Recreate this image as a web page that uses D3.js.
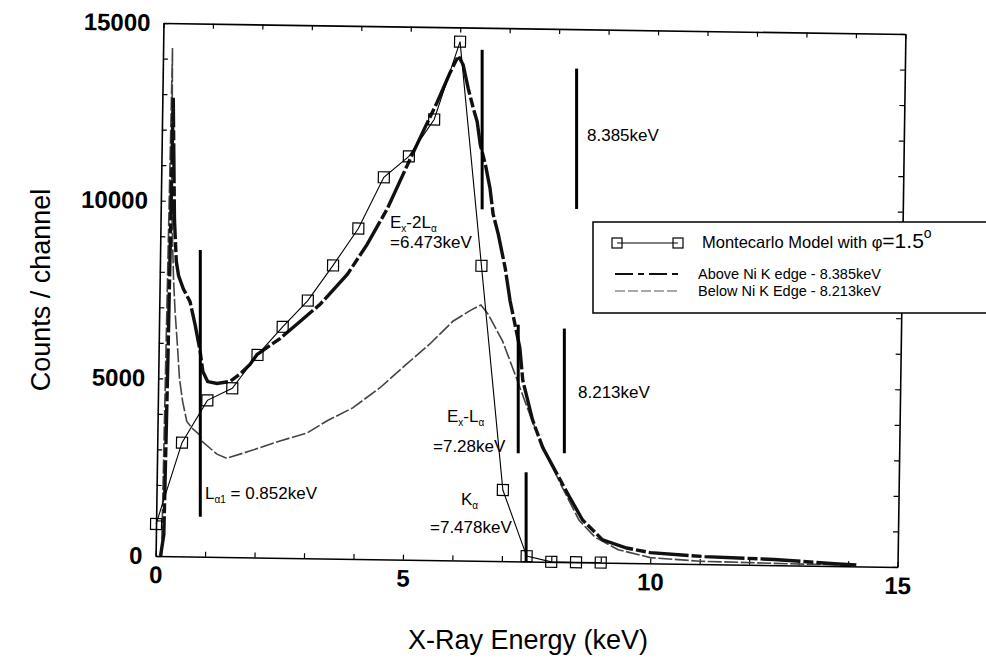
<!DOCTYPE html>
<html>
<head>
<meta charset="utf-8">
<script src="https://cdn.jsdelivr.net/npm/d3@7"></script>
<style>
  body { margin: 0; background: #fff; }
  text { font-family: "Liberation Sans", Arial, sans-serif; fill: #000; }
</style>
</head>
<body>
<div id="chart"></div>
<script>
var width = 986, height = 663;

// Montecarlo model, phi = 1.5 deg (keV, counts/channel)
var mcEnergy = [0, 0.5, 1, 1.5, 2, 2.5, 3, 3.5, 4, 4.5, 5, 5.5, 6, 6.5, 7, 7.5, 8, 8.5, 9];
var mcCounts = [900, 3200, 4400, 4750, 5700, 6500, 7250, 8250, 9300, 10750, 11350, 12400, 14600, 8300, 2000, 150, 0, 0, 0];

// measured spectrum, above Ni K edge (8.385 keV)
var aboveEnergy = [0.10, 0.16, 0.19, 0.22, 0.25, 0.28, 0.33, 0.38, 0.48, 0.62, 0.73, 0.84, 0.90, 1.00, 1.19,
  1.45, 1.65, 1.85, 1.99, 2.45, 2.85, 3.25, 3.79, 4.18, 4.58, 4.97, 5.36, 5.56, 5.80, 5.97, 6.07, 6.18,
  6.29, 6.37, 6.44, 6.55, 6.65, 6.72, 6.83, 6.98, 7.09, 7.30, 7.37, 7.58, 7.79, 8.08, 8.35, 8.62, 9.03,
  9.52, 10.0, 11.1, 12.5, 13.8, 14.2];
var aboveCounts = [0, 600, 5500, 12900, 11200, 9500, 8300, 7900, 7530, 7170, 6520, 5770, 5210, 4930, 4880,
  4940, 5150, 5430, 5710, 6170, 6660, 7150, 8000, 8850, 9870, 11100, 12300, 12900, 13700, 14200, 13950, 13280,
  12720, 12360, 11710, 11150, 10480, 9760, 9200, 8250, 7320, 6010, 5090, 3980, 3220, 2500, 1830, 1190, 640,
  420, 300, 210, 160, 60, 40];

// measured spectrum, below Ni K edge (8.213 keV)
var belowEnergy = [0.12, 0.19, 0.22, 0.25, 0.28, 0.32, 0.38, 0.43, 0.50, 0.59, 0.71, 0.85, 0.91, 1.21, 1.41,
  1.87, 2.48, 3.02, 3.42, 3.94, 4.48, 5.02, 5.48, 5.94, 6.30, 6.50, 6.65, 6.95, 7.24, 7.57, 7.93, 8.20,
  8.55, 8.88, 9.35, 10.0, 11.0, 12.5, 14.0];
var belowCounts = [0, 14300, 10000, 8800, 7800, 6900, 5900, 5000, 4360, 3800, 3600, 3430, 3240, 2890, 2780,
  2990, 3290, 3520, 3870, 4250, 4820, 5510, 6080, 6730, 7050, 7200, 6940, 6190, 5160, 3960, 2850, 2100,
  1180, 710, 370, 160, 80, 50, 30];

// energy marker bars (keV, top and bottom in counts)
var markerEnergy = [0.852, 6.473, 8.385, 7.28, 8.213, 7.478];
var markerTop    = [8630, 14380, 13890, 6660, 6570, 2510];
var markerBottom = [1120, 9890, 9940, 3040, 3060, 0];

var xTickLabels = [0, 5, 10, 15];
var yTickLabels = [0, 5000, 10000, 15000];

var legendLabels = ["Montecarlo Model with \u03c6", "Above Ni K edge - 8.385keV", "Below Ni K Edge - 8.213keV"];

var svg = d3.select("#chart")
  .append("svg")
    .attr("width", width)
    .attr("height", height);

var x = d3.scaleLinear().domain([0, 15]).range([159.5, 901.5]);
var y = d3.scaleLinear().domain([0, 15000]).range([561.5, 28.5]);

// the scanned figure is turned slightly clockwise
var angle = 0.85, cx = 530.5, cy = 295;
var g = svg.append("g")
  .attr("transform", "rotate(" + angle + "," + cx + "," + cy + ")");

// same turn applied to a single point (for the upright marker bars)
function turn(px, py) {
  var a = angle * Math.PI / 180, dx = px - cx, dy = py - cy;
  return [cx + dx * Math.cos(a) - dy * Math.sin(a), cy + dx * Math.sin(a) + dy * Math.cos(a)];
}

var axisStyle = function(sel) {
  sel.selectAll("text").style("font-size", "24px").style("font-weight", "bold");
  sel.select(".domain").attr("stroke", "#000").attr("stroke-width", 1.6);
  sel.selectAll(".tick line").attr("stroke", "#000").attr("stroke-width", 1.2);
};

g.append("g")
  .attr("transform", "translate(0," + y(0) + ")")
  .call(d3.axisBottom(x).tickValues(d3.range(0, 16, 1)).tickSizeInner(-5).tickSizeOuter(0).tickPadding(10)
    .tickFormat(function(d) { return xTickLabels.indexOf(d) >= 0 ? d : ""; }))
  .call(axisStyle);

g.append("g")
  .attr("transform", "translate(0," + y(15000) + ")")
  .call(d3.axisTop(x).tickValues(d3.range(0, 16, 1)).tickSizeInner(-5).tickSizeOuter(0).tickFormat(""))
  .call(axisStyle);

g.append("g")
  .attr("transform", "translate(" + x(0) + ",0)")
  .call(d3.axisLeft(y).tickValues(d3.range(0, 15001, 1000)).tickSizeInner(-5).tickSizeOuter(0).tickPadding(13)
    .tickFormat(function(d) { return yTickLabels.indexOf(d) >= 0 ? d : ""; }))
  .call(axisStyle);

g.append("g")
  .attr("transform", "translate(" + x(15) + ",0)")
  .call(d3.axisRight(y).tickValues(d3.range(0, 15001, 1000)).tickSizeInner(-5).tickSizeOuter(0).tickFormat(""))
  .call(axisStyle);

var line = d3.line()
  .x(function(d) { return x(d[0]); })
  .y(function(d) { return y(d[1]); });

g.append("path")
  .datum(d3.zip(belowEnergy, belowCounts))
  .attr("fill", "none")
  .attr("stroke", "#444")
  .attr("stroke-width", 1.6)
  .attr("stroke-dasharray", "14,2.5")
  .attr("d", line);

g.append("path")
  .datum(d3.zip(aboveEnergy, aboveCounts))
  .attr("fill", "none")
  .attr("stroke", "#111")
  .attr("stroke-width", 3.4)
  .attr("stroke-dasharray", "40,3,10,3")
  .attr("d", line);

var mc = d3.zip(mcEnergy, mcCounts);
g.append("path")
  .datum(mc)
  .attr("fill", "none")
  .attr("stroke", "#000")
  .attr("stroke-width", 1.1)
  .attr("d", line);

g.selectAll(".mc")
    .data(mc)
  .enter().append("rect")
    .attr("class", "mc")
    .attr("x", function(d) { return x(d[0]) - 5.5; })
    .attr("y", function(d) { return y(d[1]) - 5.5; })
    .attr("width", 11)
    .attr("height", 11)
    .attr("fill", "none")
    .attr("stroke", "#000")
    .attr("stroke-width", 1.2);

// marker bars stand upright on the page
svg.selectAll(".marker")
    .data(d3.zip(markerEnergy, markerTop, markerBottom))
  .enter().append("line")
    .attr("class", "marker")
    .each(function(d) {
      var top = turn(x(d[0]), y(d[1])), bot = turn(x(d[0]), y(d[2]));
      var mx = (top[0] + bot[0]) / 2;
      d3.select(this).attr("x1", mx).attr("x2", mx).attr("y1", top[1]).attr("y2", bot[1]);
    })
    .attr("stroke", "#000")
    .attr("stroke-width", 3);

// annotations (parts: [text, subscript?])
function note(px, py, parts, size) {
  var t = svg.append("text").attr("x", px).attr("y", py).style("font-size", (size || 17) + "px");
  var shifted = false;
  parts.forEach(function(p) {
    var sp = t.append("tspan").text(p[0]);
    if (p[1] && !shifted) { sp.attr("dy", 4).style("font-size", "10px"); shifted = true; }
    else if (!p[1] && shifted) { sp.attr("dy", -4); shifted = false; }
  });
}

note(390, 228, [["E"], ["x", 1], ["-2L"], ["\u03b1", 1]]);
note(390, 248, [["=6.473keV"]]);
note(587, 141, [["8.385keV"]]);
note(578, 398, [["8.213keV"]]);
note(447, 422, [["E"], ["x", 1], ["-L"], ["\u03b1", 1]]);
note(433, 452, [["=7.28keV"]]);
note(461, 505, [["K"], ["\u03b1", 1]]);
note(430, 533, [["=7.478keV"]]);
note(205, 499, [["L"], ["\u03b11", 1], [" = 0.852keV"]]);

// axis titles
svg.append("text")
  .attr("transform", "translate(50,290) rotate(-90)")
  .attr("text-anchor", "middle")
  .style("font-size", "27px")
  .text("Counts / channel");

svg.append("text")
  .attr("x", 528)
  .attr("y", 649)
  .attr("text-anchor", "middle")
  .style("font-size", "27px")
  .text("X-Ray Energy (keV)");

// legend
var lg = svg.append("g");
lg.append("rect")
  .attr("x", 593).attr("y", 222).attr("width", 420).attr("height", 91)
  .attr("fill", "#fff").attr("stroke", "#000").attr("stroke-width", 1.5);

var rowY = [243, 274, 291];
lg.append("line").attr("x1", 617).attr("x2", 678).attr("y1", rowY[0]).attr("y2", rowY[0])
  .attr("stroke", "#000").attr("stroke-width", 1.1);
lg.selectAll(".lsq").data([617, 678]).enter().append("rect")
  .attr("x", function(d) { return d - 5; }).attr("y", rowY[0] - 5)
  .attr("width", 10).attr("height", 10).attr("fill", "none").attr("stroke", "#000").attr("stroke-width", 1.2);
lg.append("line").attr("x1", 615).attr("x2", 680).attr("y1", rowY[1]).attr("y2", rowY[1])
  .attr("stroke", "#111").attr("stroke-width", 2).attr("stroke-dasharray", "18,5,6,5");
lg.append("line").attr("x1", 615).attr("x2", 680).attr("y1", rowY[2]).attr("y2", rowY[2])
  .attr("stroke", "#555").attr("stroke-width", 1.2).attr("stroke-dasharray", "10,3");

var t1 = lg.append("text").attr("x", 702).attr("y", rowY[0] + 5).style("font-size", "16.5px");
t1.append("tspan").text(legendLabels[0]);
t1.append("tspan").style("font-size", "21px").text("=1.5");
t1.append("tspan").attr("dy", -10).style("font-size", "14px").text("o");
lg.append("text").attr("x", 698).attr("y", rowY[1] + 5).style("font-size", "14.5px").text(legendLabels[1]);
lg.append("text").attr("x", 698).attr("y", rowY[2] + 5).style("font-size", "14.5px").text(legendLabels[2]);
</script>
</body>
</html>
